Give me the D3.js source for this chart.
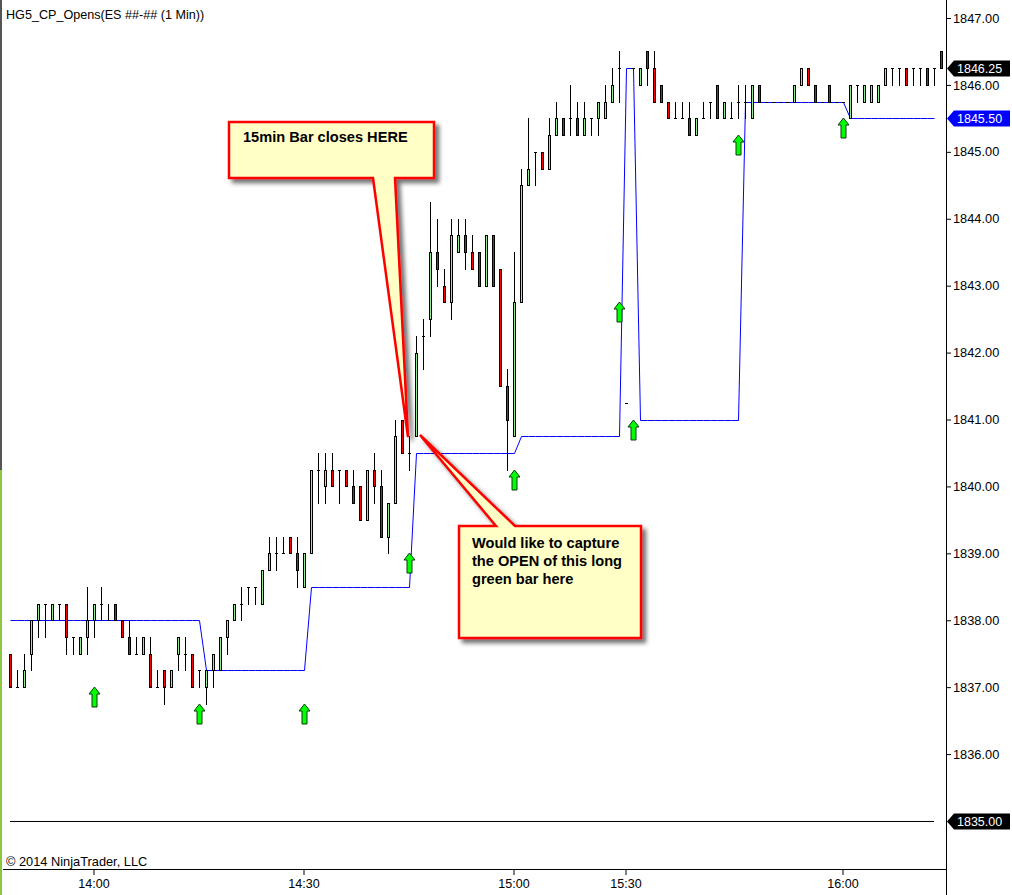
<!DOCTYPE html>
<html>
<head>
<meta charset="utf-8">
<script src="https://cdn.jsdelivr.net/npm/d3@7"></script>
<style>
html, body { margin: 0; padding: 0; background: #fff; }
svg text { font-family: "Liberation Sans", Arial, sans-serif; }
</style>
</head>
<body>
<div id="chart"></div>
<script>
// 1 min bars, one value per bar (bar number = position on the time axis)
var opens = [
    1837.5, 1837.0, 1837.0, 1837.5, 1838.0, 1838.25, 1838.0, 1838.25, 1838.25, 1837.75,
    1837.5, 1837.75, 1838.0, 1838.25, 1838.0, 1838.25, 1838.0, 1837.75, 1837.5, 1837.5,
    1837.5, 1837.0, 1837.25, 1837.0, 1837.5, 1837.5, 1837.5, 1837.25, 1837.0, 1837.25,
    1837.25, 1837.75, 1838.0, 1838.25, 1838.5, 1838.5, 1838.25, 1838.75, 1839.0, 1839.0,
    1839.25, 1839.0, 1838.5, 1839.0, 1840.25, 1840.0, 1840.25, 1840.25, 1840.25, 1840.0,
    1840.0, 1839.5, 1840.25, 1840.0, 1839.25, 1839.75, 1841.0, 1840.5, 1840.75, 1842.25,
    1842.5, 1843.5, 1843.0, 1842.75, 1843.5, 1843.75, 1843.5, 1843.5, 1843.0, 1843.75,
    1843.25, 1841.5, 1840.75, 1842.75, 1844.5, 1845.0, 1845.0, 1844.75, 1845.25, 1845.5,
    1845.5, 1845.5, 1845.25, 1845.5, 1845.5, 1845.5, 1845.75, 1846.25, 1841.25, 1846.25,
    1846.0, 1846.5, 1846.25, 1846.0, 1845.75, 1845.5, 1845.5, 1845.5, 1845.25, 1845.5,
    1845.75, 1846.0, 1845.5, 1845.5, 1845.75, 1845.75, 1845.5, 1846.0, 1845.75, 1845.75,
    1845.75, 1845.75, 1845.75, 1846.0, 1846.25, 1846.0, 1845.75, 1846.0, 1845.75, 1845.75,
    1845.5, 1846.0, 1845.75, 1845.75, 1845.75, 1846.0, 1846.25, 1846.25, 1846.25, 1846.25,
    1846.25, 1846.25, 1846.25, 1846.5
];
var highs = [
    1837.5, 1837.25, 1837.5, 1838.0, 1838.25, 1838.25, 1838.25, 1838.25, 1838.25, 1837.75,
    1837.75, 1838.5, 1838.25, 1838.5, 1838.25, 1838.25, 1838.0, 1838.0, 1837.75, 1837.75,
    1837.75, 1837.25, 1837.25, 1837.25, 1837.75, 1837.75, 1837.5, 1837.25, 1837.25, 1837.5,
    1837.75, 1838.0, 1838.25, 1838.5, 1838.5, 1838.5, 1838.75, 1839.25, 1839.25, 1839.25,
    1839.25, 1839.25, 1839.0, 1840.25, 1840.5, 1840.5, 1840.5, 1840.25, 1840.25, 1840.25,
    1840.0, 1840.25, 1840.5, 1840.25, 1839.75, 1841.0, 1841.0, 1840.75, 1842.25, 1842.5,
    1844.25, 1844.0, 1843.25, 1844.0, 1844.0, 1844.0, 1843.75, 1843.5, 1843.75, 1843.75,
    1843.25, 1841.75, 1843.5, 1844.75, 1845.5, 1845.0, 1845.0, 1845.5, 1845.75, 1845.5,
    1846.0, 1845.75, 1845.75, 1845.5, 1845.75, 1846.0, 1846.25, 1846.5, 1841.25, 1846.25,
    1846.25, 1846.5, 1846.5, 1846.0, 1845.75, 1845.75, 1845.75, 1845.75, 1845.5, 1845.75,
    1845.75, 1846.0, 1845.75, 1845.75, 1846.0, 1846.0, 1846.0, 1846.0, 1845.75, 1845.75,
    1845.75, 1845.75, 1846.0, 1846.25, 1846.25, 1846.0, 1845.75, 1846.0, 1845.75, 1845.75,
    1846.0, 1846.0, 1846.0, 1846.0, 1846.0, 1846.25, 1846.25, 1846.25, 1846.25, 1846.25,
    1846.25, 1846.25, 1846.25, 1846.5
];
var lows = [
    1837.0, 1837.0, 1837.0, 1837.25, 1837.75, 1837.75, 1838.0, 1838.0, 1837.5, 1837.5,
    1837.5, 1837.5, 1837.75, 1838.0, 1838.0, 1838.0, 1837.75, 1837.5, 1837.5, 1837.5,
    1837.0, 1837.0, 1836.75, 1837.0, 1837.25, 1837.25, 1837.0, 1837.0, 1836.75, 1837.0,
    1837.25, 1837.5, 1838.0, 1838.0, 1838.25, 1838.25, 1838.25, 1838.75, 1838.75, 1839.0,
    1839.0, 1838.5, 1838.5, 1839.0, 1839.75, 1839.75, 1840.0, 1839.75, 1840.0, 1839.75,
    1839.5, 1839.5, 1839.75, 1839.25, 1839.0, 1839.75, 1840.5, 1840.25, 1840.75, 1841.75,
    1842.25, 1843.0, 1842.75, 1842.5, 1843.5, 1843.25, 1843.25, 1843.0, 1843.0, 1843.0,
    1841.5, 1840.25, 1840.75, 1842.75, 1844.5, 1844.5, 1844.75, 1844.75, 1845.25, 1845.25,
    1845.25, 1845.25, 1845.25, 1845.25, 1845.25, 1845.5, 1845.75, 1845.75, 1841.25, 1846.25,
    1846.0, 1846.0, 1845.75, 1845.75, 1845.5, 1845.5, 1845.5, 1845.25, 1845.25, 1845.5,
    1845.5, 1845.5, 1845.5, 1845.5, 1845.5, 1845.5, 1845.5, 1845.75, 1845.75, 1845.75,
    1845.75, 1845.75, 1845.75, 1846.0, 1846.0, 1845.75, 1845.75, 1845.75, 1845.75, 1845.75,
    1845.5, 1845.75, 1845.75, 1845.75, 1845.75, 1846.0, 1846.0, 1846.0, 1846.0, 1846.0,
    1846.0, 1846.0, 1846.0, 1846.25
];
var closes = [
    1837.0, 1837.0, 1837.25, 1838.0, 1838.25, 1838.25, 1838.25, 1838.25, 1837.75, 1837.75,
    1837.75, 1838.0, 1838.25, 1838.25, 1838.0, 1838.0, 1837.75, 1837.5, 1837.5, 1837.75,
    1837.0, 1837.0, 1837.0, 1837.25, 1837.75, 1837.5, 1837.0, 1837.25, 1837.25, 1837.5,
    1837.75, 1838.0, 1838.25, 1838.25, 1838.5, 1838.5, 1838.75, 1839.0, 1839.0, 1839.0,
    1839.0, 1838.75, 1839.0, 1840.25, 1840.25, 1840.25, 1840.0, 1840.25, 1840.0, 1839.75,
    1839.5, 1840.25, 1840.0, 1839.25, 1839.75, 1840.75, 1840.5, 1840.5, 1842.0, 1842.25,
    1843.5, 1843.25, 1842.75, 1843.75, 1843.75, 1843.5, 1843.25, 1843.0, 1843.75, 1843.0,
    1841.5, 1841.0, 1842.75, 1844.5, 1844.75, 1845.0, 1844.75, 1845.25, 1845.5, 1845.25,
    1845.5, 1845.25, 1845.5, 1845.5, 1845.75, 1845.75, 1846.0, 1846.25, 1841.25, 1846.25,
    1846.25, 1846.25, 1845.75, 1845.75, 1845.5, 1845.5, 1845.5, 1845.25, 1845.5, 1845.5,
    1845.75, 1845.5, 1845.75, 1845.5, 1845.75, 1845.75, 1846.0, 1845.75, 1845.75, 1845.75,
    1845.75, 1845.75, 1846.0, 1846.25, 1846.0, 1845.75, 1845.75, 1845.75, 1845.75, 1845.75,
    1846.0, 1846.0, 1846.0, 1846.0, 1846.0, 1846.25, 1846.25, 1846.25, 1846.0, 1846.25,
    1846.25, 1846.0, 1846.25, 1846.25
];
// CP_Opens plot (blue line), bars 0..132
var cp_opens = [
    1838.0, 1838.0, 1838.0, 1838.0, 1838.0, 1838.0, 1838.0, 1838.0, 1838.0, 1838.0,
    1838.0, 1838.0, 1838.0, 1838.0, 1838.0, 1838.0, 1838.0, 1838.0, 1838.0, 1838.0,
    1838.0, 1838.0, 1838.0, 1838.0, 1838.0, 1838.0, 1838.0, 1838.0, 1837.25, 1837.25,
    1837.25, 1837.25, 1837.25, 1837.25, 1837.25, 1837.25, 1837.25, 1837.25, 1837.25, 1837.25,
    1837.25, 1837.25, 1837.25, 1838.5, 1838.5, 1838.5, 1838.5, 1838.5, 1838.5, 1838.5,
    1838.5, 1838.5, 1838.5, 1838.5, 1838.5, 1838.5, 1838.5, 1838.5, 1840.5, 1840.5,
    1840.5, 1840.5, 1840.5, 1840.5, 1840.5, 1840.5, 1840.5, 1840.5, 1840.5, 1840.5,
    1840.5, 1840.5, 1840.5, 1840.75, 1840.75, 1840.75, 1840.75, 1840.75, 1840.75, 1840.75,
    1840.75, 1840.75, 1840.75, 1840.75, 1840.75, 1840.75, 1840.75, 1840.75, 1846.25, 1846.25,
    1841.0, 1841.0, 1841.0, 1841.0, 1841.0, 1841.0, 1841.0, 1841.0, 1841.0, 1841.0,
    1841.0, 1841.0, 1841.0, 1841.0, 1841.0, 1845.75, 1845.75, 1845.75, 1845.75, 1845.75,
    1845.75, 1845.75, 1845.75, 1845.75, 1845.75, 1845.75, 1845.75, 1845.75, 1845.75, 1845.75,
    1845.5, 1845.5, 1845.5, 1845.5, 1845.5, 1845.5, 1845.5, 1845.5, 1845.5, 1845.5,
    1845.5, 1845.5, 1845.5
];
// green up arrows every 15 min
var arrow_bars   = [12, 27, 42, 57, 72, 87, 89, 104, 119];
var arrow_prices = [1837.0, 1836.75, 1836.75, 1839.0, 1840.25, 1842.75, 1841.0, 1845.25, 1845.5];

var time_tick_bars   = [12, 42, 72, 88, 119];
var time_tick_labels = ['14:00', '14:30', '15:00', '15:30', '16:00'];
var price_ticks = [1836, 1837, 1838, 1839, 1840, 1841, 1842, 1843, 1844, 1845, 1846, 1847];

var last_price  = 1846.25;
var plot_price  = 1845.5;
var hline_price = 1835.0;

var title_text = 'HG5_CP_Opens(ES ##-## (1 Min))';
var copy_text  = '\u00a9 2014 NinjaTrader, LLC';
var note1 = ['15min Bar closes HERE'];
var note2 = ['Would like to capture', 'the OPEN of this long', 'green bar here'];

// SVG
var chart_width  = 1012;
var chart_height = 895;
var svg = d3.select('#chart')
    .append('svg')
    .attr('width', chart_width)
    .attr('height', chart_height)
    .style('display', 'block');

var defs = svg.append('defs');
var shadow = defs.append('filter').attr('id', 'shadow')
    .attr('x', '-10%').attr('y', '-10%').attr('width', '130%').attr('height', '130%');
shadow.append('feDropShadow')
    .attr('dx', 4).attr('dy', 4).attr('stdDeviation', 2)
    .attr('flood-color', '#000').attr('flood-opacity', 0.55);

svg.append('rect').attr('width', chart_width).attr('height', chart_height).attr('fill', '#fff');

// scales
var bars = d3.range(opens.length).map(function(i){
    return { i: i, o: opens[i], h: highs[i], l: lows[i], c: closes[i] };
});

var x_scale = d3.scaleBand()
    .domain(d3.range(opens.length))
    .range([6.5, 944.5]);

var y_scale = d3.scaleLinear()
    .domain([1835, 1847])
    .range([821, 18]);

function cx(i){
    return Math.round(x_scale(i) + x_scale.bandwidth() / 2);
}
function py(p){
    return Math.round(y_scale(p));
}

// left edge strip
svg.append('rect').attr('x', 0).attr('y', 0).attr('width', 2).attr('height', 470).attr('fill', '#555');
svg.append('rect').attr('x', 0).attr('y', 470).attr('width', 2).attr('height', 425).attr('fill', '#8cc63f');

// title
svg.append('text')
    .attr('x', 6).attr('y', 19)
    .attr('font-size', 12.6)
    .attr('fill', '#000')
    .text(title_text);

// horizontal line at 1835
svg.append('line')
    .attr('x1', cx(0)).attr('x2', cx(cp_opens.length - 1))
    .attr('y1', py(hline_price) + 0.5).attr('y2', py(hline_price) + 0.5)
    .attr('stroke', '#000').attr('stroke-width', 1);

// blue CP_Opens line
var line = d3.line()
    .x(function(d, i){ return cx(i) + 0.5; })
    .y(function(d){ return py(d) + 0.5; });

svg.append('path')
    .datum(cp_opens)
    .attr('d', line)
    .attr('fill', 'none')
    .attr('stroke', '#0000ff')
    .attr('stroke-width', 1);

// candles
var candles = svg.append('g').attr('shape-rendering', 'crispEdges');

candles.selectAll('line.wick')
    .data(bars.filter(function(d){ return d.h !== d.l; }))
    .enter()
    .append('line')
    .attr('class', 'wick')
    .attr('x1', function(d){ return cx(d.i) + 0.5; })
    .attr('x2', function(d){ return cx(d.i) + 0.5; })
    .attr('y1', function(d){ return py(d.h); })
    .attr('y2', function(d){ return py(d.l) + 1; })
    .attr('stroke', '#000');

candles.selectAll('rect.body')
    .data(bars.filter(function(d){ return d.o !== d.c; }))
    .enter()
    .append('rect')
    .attr('class', 'body')
    .attr('x', function(d){ return cx(d.i) - 0.5; })
    .attr('y', function(d){ return py(Math.max(d.o, d.c)) + 0.5; })
    .attr('width', 2)
    .attr('height', function(d){ return Math.abs(py(d.o) - py(d.c)); })
    .attr('fill', function(d){ return d.c > d.o ? '#90ee90' : '#ff0000'; })
    .attr('stroke', '#000')
    .attr('stroke-width', 1);

candles.selectAll('line.doji')
    .data(bars.filter(function(d){ return d.o === d.c; }))
    .enter()
    .append('line')
    .attr('class', 'doji')
    .attr('x1', function(d){ return cx(d.i) - 1; })
    .attr('x2', function(d){ return cx(d.i) + 2; })
    .attr('y1', function(d){ return py(d.o) + 0.5; })
    .attr('y2', function(d){ return py(d.o) + 0.5; })
    .attr('stroke', '#000');

// arrows
svg.selectAll('path.arrow')
    .data(arrow_bars)
    .enter()
    .append('path')
    .attr('class', 'arrow')
    .attr('transform', function(d, k){
        return 'translate(' + (cx(d) + 0.5) + ',' + py(arrow_prices[k]) + ')';
    })
    .attr('d', 'M0,0 L5.5,7 L2.5,7 L2.5,20 L-2.5,20 L-2.5,7 L-5.5,7 Z')
    .attr('fill', '#00ff00')
    .attr('stroke', '#0a3a0a')
    .attr('stroke-width', 1)
    .attr('stroke-linejoin', 'miter');

// right price axis
var y_axis = d3.axisRight(y_scale)
    .tickValues(price_ticks)
    .tickSize(5)
    .tickPadding(2)
    .tickFormat(d3.format('.2f'));

var y_g = svg.append('g')
    .attr('transform', 'translate(946,0)')
    .call(y_axis);
y_g.select('.domain').remove();
y_g.selectAll('text').attr('font-size', 12.8).attr('fill', '#000')
    .attr('font-family', '"Liberation Sans", Arial, sans-serif');
y_g.selectAll('line').attr('stroke', '#000');

svg.append('line')
    .attr('x1', 946.5).attr('x2', 946.5)
    .attr('y1', 0).attr('y2', chart_height)
    .attr('stroke', '#000');

// price markers
var markers = [
    { p: last_price, fill: '#000' },
    { p: plot_price, fill: '#0000ff' },
    { p: hline_price, fill: '#000' }
];
var mk = svg.selectAll('g.marker')
    .data(markers)
    .enter()
    .append('g')
    .attr('class', 'marker')
    .attr('transform', function(d){ return 'translate(0,' + (py(d.p) + 0.5) + ')'; });
mk.append('path')
    .attr('d', 'M947,0 L954,-8 L1010,-8 L1010,8 L954,8 Z')
    .attr('fill', function(d){ return d.fill; });
mk.append('text')
    .attr('x', 957)
    .attr('y', 0)
    .attr('dy', '0.35em')
    .attr('font-size', 12.5)
    .attr('fill', '#fff')
    .text(function(d){ return d3.format('.2f')(d.p); });

// bottom time axis
var x_axis = d3.axisBottom(x_scale)
    .tickValues(time_tick_bars)
    .tickSize(6)
    .tickPadding(4)
    .tickFormat(function(d){ return time_tick_labels[time_tick_bars.indexOf(d)]; });

var x_g = svg.append('g')
    .attr('transform', 'translate(0,869)')
    .call(x_axis);
x_g.select('.domain').remove();
x_g.selectAll('text').attr('font-size', 12.5).attr('fill', '#000')
    .attr('font-family', '"Liberation Sans", Arial, sans-serif');
x_g.selectAll('line').attr('stroke', '#000');

svg.append('line')
    .attr('x1', 3).attr('x2', 946)
    .attr('y1', 869.5).attr('y2', 869.5)
    .attr('stroke', '#000');

// copyright
svg.append('text')
    .attr('x', 6).attr('y', 866)
    .attr('font-size', 12.8)
    .attr('fill', '#000')
    .text(copy_text);

// callouts
var callout1 = 'M229,122 L434,122 L434,178 L395,178 L408,437 L373,178 L229,178 Z';
var callout2 = 'M459,526 L496,526 L420,435 L515,526 L641,526 L641,638 L459,638 Z';

[callout1, callout2].forEach(function(d){
    svg.append('path')
        .attr('d', d)
        .attr('fill', '#ffffc6')
        .attr('stroke', '#ff0000')
        .attr('stroke-width', 2.5)
        .attr('stroke-linejoin', 'miter')
        .attr('filter', 'url(#shadow)');
});

svg.selectAll('text.note1')
    .data(note1)
    .enter()
    .append('text')
    .attr('class', 'note1')
    .attr('x', 243)
    .attr('y', function(d, i){ return 142 + i * 18; })
    .attr('font-size', 14.6)
    .attr('font-weight', 'bold')
    .attr('fill', '#000')
    .text(function(d){ return d; });

svg.selectAll('text.note2')
    .data(note2)
    .enter()
    .append('text')
    .attr('class', 'note2')
    .attr('x', 472)
    .attr('y', function(d, i){ return 548 + i * 18; })
    .attr('font-size', 14.6)
    .attr('font-weight', 'bold')
    .attr('fill', '#000')
    .text(function(d){ return d; });
</script>
</body>
</html>
